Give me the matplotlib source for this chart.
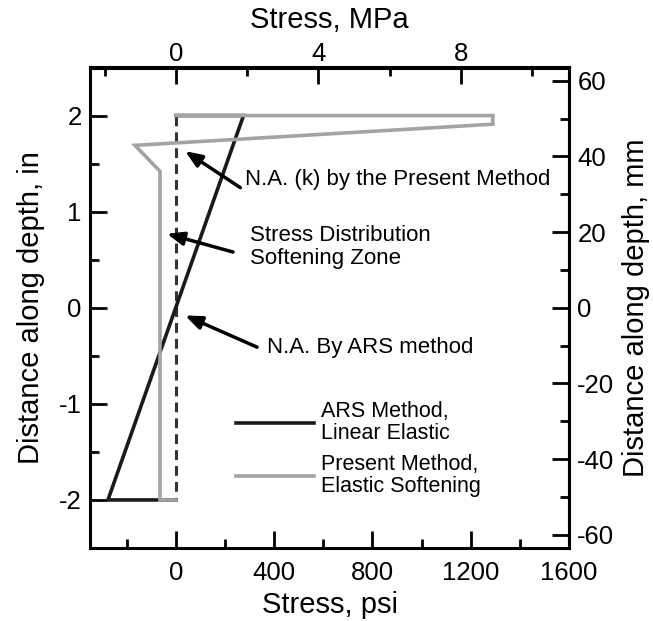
import matplotlib
matplotlib.use("Agg")
import matplotlib.pyplot as plt
from matplotlib.ticker import MultipleLocator

plt.rcParams['font.family'] = ['Liberation Sans', 'DejaVu Sans']
plt.rcParams['axes.unicode_minus'] = False

# ARS method (linear elastic) stress profile, psi vs depth (in)
ars_stress = [0, 275, -277, 0]
ars_depth = [2.0, 2.0, -2.0, -2.0]

# Present method (elastic softening) stress profile
pm_stress = [0, 1290, 1290, -167, -65, -65, 0]
pm_depth = [2.0, 2.0, 1.91, 1.69, 1.42, -2.0, -2.0]

# Neutral axis (dashed)
na_stress = [0, 0]
na_depth = [2.0, -2.0]

ann_texts = ["N.A. (k) by the Present Method", "Stress Distribution\nSoftening Zone", "N.A. By ARS method"]
ann_heads = [(37, 1.63), (-37, 0.77), (37, -0.08)]
ann_tails = [(262, 1.25), (232, 0.58), (330, -0.41)]

legend_labels = ["ARS Method,\nLinear Elastic", "Present Method,\nElastic Softening"]

PSI_PER_MPA = 145.038
MM_PER_IN = 25.4

fig = plt.figure(figsize=(6.53, 6.21), dpi=100)
ax = fig.add_axes([90/653, 1 - 548/621, (569-90)/653, (548-67.5)/621])

black = '#1a1a1a'
gray = '#a3a3a3'
lw = 2.6

l1, = ax.plot(ars_stress, ars_depth, color=black, lw=lw, solid_joinstyle='miter', zorder=3)
l2, = ax.plot(pm_stress, pm_depth, color=gray, lw=lw, solid_joinstyle='miter', zorder=4)
ax.plot(na_stress, na_depth, color='#333333', lw=2.2, dashes=(3.2, 2.0), zorder=2)

for t, h, tl in zip(ann_texts, ann_heads, ann_tails):
    ax.annotate('', xy=h, xytext=tl,
                arrowprops=dict(arrowstyle='-|>,head_length=1.0,head_width=0.4', color='black', lw=2.5,
                                shrinkA=0, shrinkB=0), zorder=5)

ann_fs = 16
ax.text(283, 1.33, ann_texts[0], fontsize=ann_fs, va='center', ha='left')
ax.text(300, 0.63, ann_texts[1], fontsize=ann_fs, va='center', ha='left', linespacing=1.15)
ax.text(370, -0.41, ann_texts[2], fontsize=ann_fs, va='center', ha='left')

ax.set_xlim(-350, 1600)
ax.set_ylim(-2.5, 2.5)
ax.xaxis.set_major_locator(MultipleLocator(400))
ax.xaxis.set_minor_locator(MultipleLocator(200))
ax.yaxis.set_major_locator(MultipleLocator(1))
ax.yaxis.set_minor_locator(MultipleLocator(0.5))

for s in ax.spines.values():
    s.set_linewidth(2.2)

tick_fs = 18.5
lab_fs = 21
tick_kw = dict(direction='in', width=2.0, labelsize=tick_fs)
ax.tick_params(axis='both', which='major', length=12, **tick_kw)
ax.tick_params(axis='both', which='minor', length=6.5, direction='in', width=2.0)
ax.tick_params(axis='x', which='major', pad=9)
ax.tick_params(axis='y', which='major', pad=6)

ax.set_xlabel('Stress, psi', fontsize=lab_fs, labelpad=5)
ax.set_ylabel('Distance along depth, in', fontsize=lab_fs, labelpad=10)

top = ax.secondary_xaxis('top', functions=(lambda x: x / PSI_PER_MPA, lambda x: x * PSI_PER_MPA))
top.xaxis.set_major_locator(MultipleLocator(4))
top.xaxis.set_minor_locator(MultipleLocator(2))
top.tick_params(axis='x', which='major', length=12, pad=1, **tick_kw)
top.tick_params(axis='x', which='minor', length=6.5, direction='in', width=2.0)
top.set_xlabel('Stress, MPa', fontsize=lab_fs, labelpad=10)
top.spines['top'].set_linewidth(2.2)

right = ax.secondary_yaxis('right', functions=(lambda y: y * MM_PER_IN, lambda y: y / MM_PER_IN))
right.yaxis.set_major_locator(MultipleLocator(20))
right.yaxis.set_minor_locator(MultipleLocator(10))
right.tick_params(axis='y', which='major', length=12, pad=6, **tick_kw)
right.tick_params(axis='y', which='minor', length=6.5, direction='in', width=2.0)
right.set_ylabel('Distance along depth, mm', fontsize=lab_fs, labelpad=5)
right.spines['right'].set_linewidth(2.2)

leg = ax.legend([l1, l2], legend_labels, loc='upper left', bbox_to_anchor=(0.305, 0.305),
                frameon=False, fontsize=15.5, handlelength=3.6, handletextpad=0.35,
                labelspacing=0.45, borderaxespad=0, borderpad=0)
for t in leg.get_texts():
    t.set_linespacing(1.05)

fig.savefig('out.png', dpi=100)
